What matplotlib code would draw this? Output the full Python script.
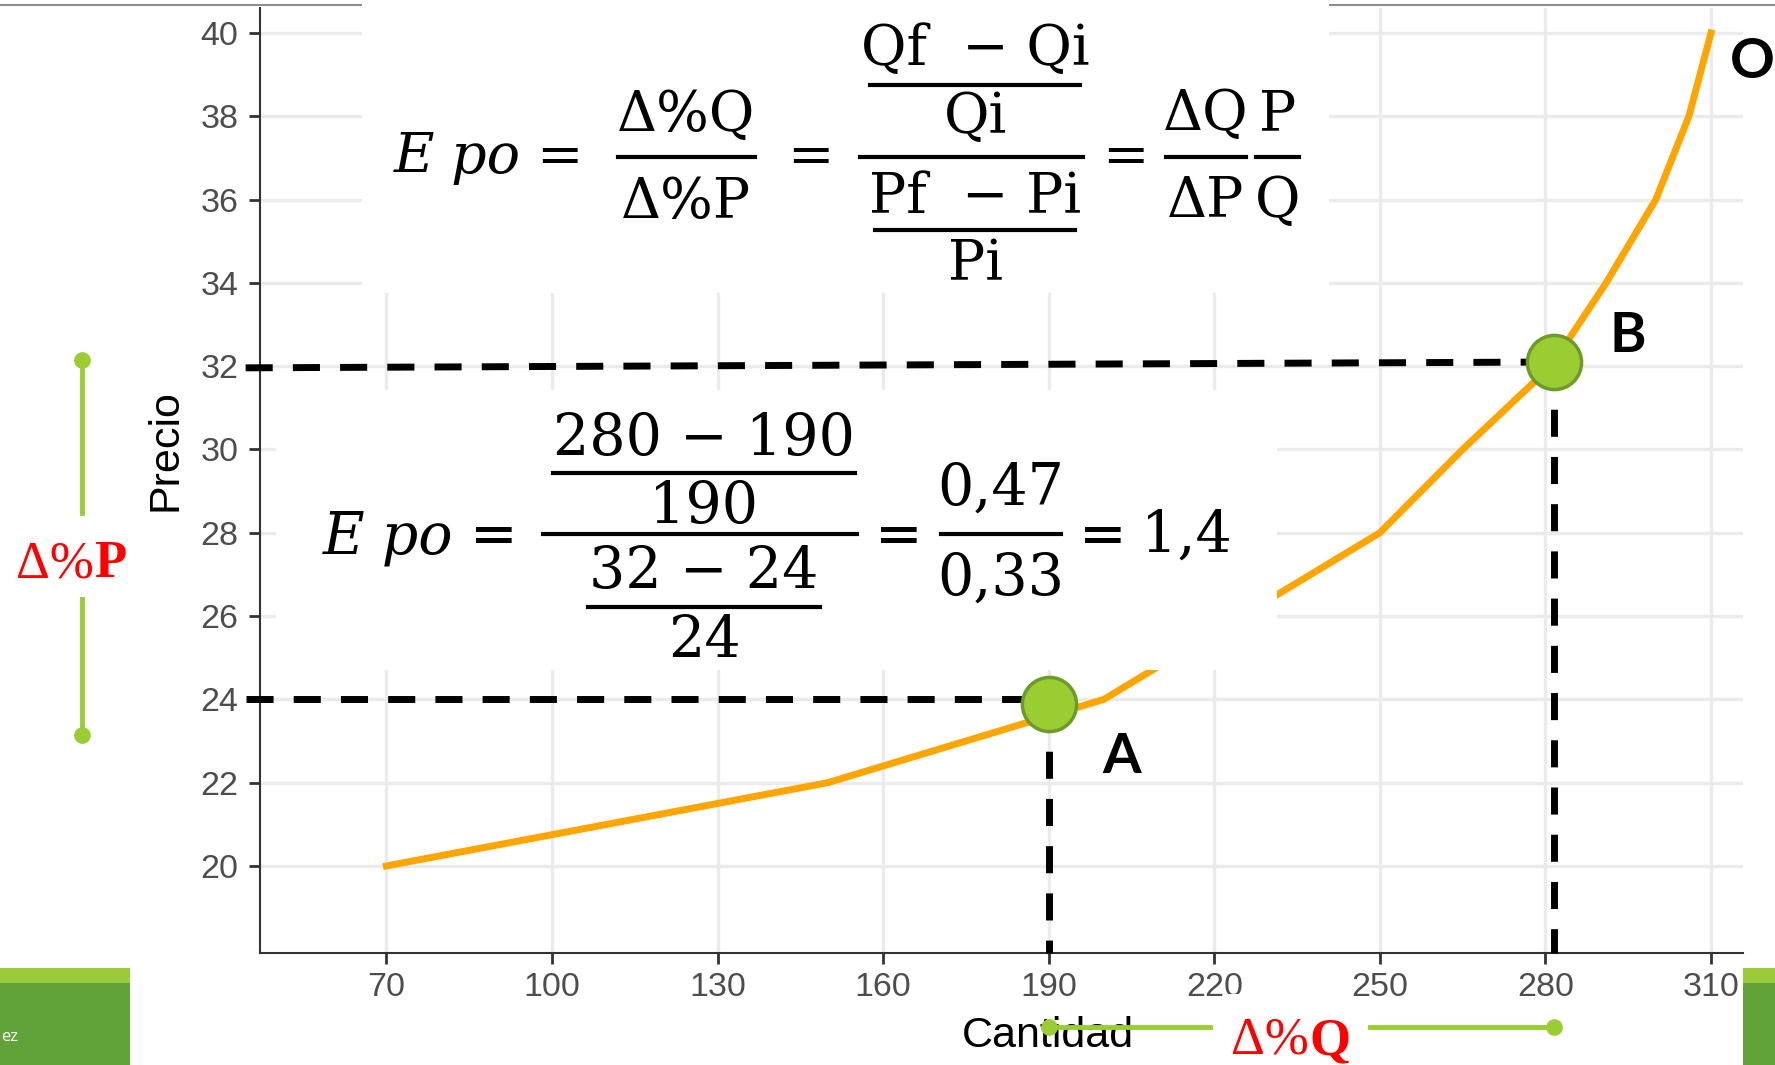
import matplotlib
matplotlib.use("Agg")
import matplotlib.pyplot as plt
from matplotlib.patches import Rectangle
from matplotlib.lines import Line2D

# ---------------- data ----------------
cantidad = [70, 150, 200, 250, 265, 281, 291, 300, 306, 310]
precio = [20, 22, 24, 28, 30, 32, 34, 36, 38, 40]
punto_A = (190, 23.9)
punto_B = (281.6, 32.1)
x_ticks = [70, 100, 130, 160, 190, 220, 250, 280, 310]
y_ticks = [20, 22, 24, 26, 28, 30, 32, 34, 36, 38, 40]

W, H = 1775, 1065
fig = plt.figure(figsize=(W / 100, H / 100), dpi=100)
fig.patch.set_facecolor("white")


def fx(x):
    return x / W


def fy(y):
    return 1 - y / H


ax = fig.add_axes([fx(260), fy(953), fx(1743) - fx(260), fy(8) - fy(953)])
ax.set_xlim(47.1, 315.8)
ax.set_ylim(17.91, 40.6)
ax.set_facecolor("white")
for s in ["top", "right"]:
    ax.spines[s].set_visible(False)
for s in ["left", "bottom"]:
    ax.spines[s].set_color("#333333")
    ax.spines[s].set_linewidth(1.5)
ax.set_xticks(x_ticks)
ax.set_yticks(y_ticks)
ax.grid(color="#EBEBEB", lw=2.4)
ax.set_axisbelow(True)
ax.tick_params(length=8, width=2, color="#333333", labelsize=24.5,
               labelcolor="#4D4D4D")
ax.tick_params(axis="y", pad=7.5)
ax.tick_params(axis="x", pad=6)
for lab in ax.get_xticklabels() + ax.get_yticklabels():
    lab.set_family("Liberation Sans")

# curve
ax.plot(cantidad, precio, color="#FFA500", lw=5, zorder=3,
        solid_joinstyle="miter")

# dashed guide lines
dash = dict(color="black", lw=5, dashes=(3.9, 2.9), clip_on=False, zorder=4)
ax.plot([44.5, punto_A[0]], [24.0, 24.0], **dash)
ax.plot([44.5, punto_B[0]], [31.96, punto_B[1]], **dash)
ax.plot([punto_A[0], punto_A[0]], [punto_A[1], 17.91], **dash)
ax.plot([punto_B[0], punto_B[0]], [punto_B[1], 17.91], **dash)

# points
for p in (punto_A, punto_B):
    ax.plot(p[0], p[1], "o", ms=39, mfc="#9ACD32", mec="#6E9A2A", mew=2.5,
            zorder=6, clip_on=False)

# axis titles
fig.text(fx(1048), fy(1047), "Cantidad", ha="center", va="baseline",
         fontsize=31, family="Liberation Sans", color="black")
fig.text(fx(166), fy(450), "Precio", ha="center", va="center", rotation=90,
         fontsize=31, family="Liberation Sans", color="black")

# point labels
lab_kw = dict(ha="center", va="baseline", fontsize=40, family="Lato",
              weight="bold", color="black")
fig.text(fx(1122), fy(773), "A", **lab_kw)
fig.text(fx(1628), fy(352), "B", **lab_kw)
fig.text(fx(1752), fy(78), "O", **lab_kw)

# slide decorations
fig.add_artist(Line2D([0, 1], [fy(5), fy(5)], color="#8C8C8C", lw=1.5,
                      zorder=1))


def white_box(x0, y0, x1, y1, z=2):
    fig.add_artist(Rectangle((fx(x0), fy(y1)), fx(x1) - fx(x0),
                             fy(y0) - fy(y1), transform=fig.transFigure,
                             facecolor="white", edgecolor="none", zorder=z))


white_box(362, 0, 1329, 293)
white_box(276, 390, 1277, 670)
white_box(1226, 994, 1350, 1065)


def rect(x0, y0, x1, y1, color, z=2):
    fig.add_artist(Rectangle((fx(x0), fy(y1)), fx(x1) - fx(x0),
                             fy(y0) - fy(y1), transform=fig.transFigure,
                             facecolor=color, edgecolor="none", zorder=z))


rect(0, 968, 130, 1065, "#62A339")
rect(0, 968, 130, 983, "#9BCB3B")
rect(1743, 968, 1775, 1065, "#62A339")
rect(1743, 968, 1775, 983, "#9BCB3B")
fig.text(fx(1), fy(1037), "ez", ha="left", va="center", fontsize=12,
         family="Open Sans", color="white", zorder=3)

# equation helper
SERIF = "DejaVu Serif"


def t(x, y, s, size=40, style="normal"):
    fig.text(fx(x), fy(y), s, ha="center", va="baseline", fontsize=size,
             family=SERIF, style=style, color="black", zorder=5)


def bar(x0, x1, y):
    fig.add_artist(Line2D([fx(x0), fx(x1)], [fy(y), fy(y)], color="black",
                          lw=3, zorder=5))


# top equation
t(457, 173, "E po", style="italic")
t(559, 173, "=")
t(686, 131, "Δ%Q")
bar(618, 755, 157)
t(686, 218, "Δ%P")
t(810, 173, "=")
t(975, 65, "Qf  − Qi")
bar(870, 1080, 85)
t(975, 133, "Qi")
bar(860, 1083, 157)
t(975, 213, "Pf  − Pi")
bar(875, 1075, 230)
t(975, 280, "Pi")
t(1125, 173, "=")
t(1206, 130, "ΔQ")
bar(1166, 1246, 157)
t(1206, 217, "ΔP")
t(1278, 130, "P")
bar(1256, 1299, 157)
t(1278, 217, "Q")

# second equation
S2 = 41
t(388, 553, "E po", S2, style="italic")
t(494, 553, "=", S2)
t(704, 455, "280 − 190", S2)
bar(553, 855, 473)
t(704, 523, "190", S2)
bar(543, 857, 534)
t(704, 588, "32 − 24", S2)
bar(588, 820, 607)
t(704, 657, "24", S2)
t(899, 553, "=", S2)
t(1001, 505, "0,47", S2)
bar(941, 1061, 534)
t(1001, 595, "0,33", S2)
t(1103, 553, "=", S2)
t(1186, 552, "1,4", S2)

# delta P marker (left)
GREEN = "#9ACD32"
fig.add_artist(Line2D([fx(82), fx(82)], [fy(360), fy(513)], color=GREEN,
                      lw=3.5, zorder=3))
fig.add_artist(Line2D([fx(82), fx(82)], [fy(599), fy(735)], color=GREEN,
                      lw=3.5, zorder=3))
fig.add_artist(Line2D([fx(82), fx(82)], [fy(360), fy(735)], ls="none",
                      marker="o", ms=11, color=GREEN, zorder=3))
red_kw = dict(va="baseline", fontsize=38, family="Liberation Serif",
              color="red", zorder=4)
fig.text(fx(94), fy(577), "Δ%", ha="right", **red_kw)
fig.text(fx(94), fy(577), "P", ha="left", weight="bold", **red_kw)

# delta Q marker (bottom)
xa = ax.transData.transform((punto_A[0], 0))[0]
xb = ax.transData.transform((punto_B[0], 0))[0]
fig.add_artist(Line2D([fx(xa), fx(1210)], [fy(1027), fy(1027)], color=GREEN,
                      lw=3.5, zorder=4))
fig.add_artist(Line2D([fx(1370), fx(xb)], [fy(1027), fy(1027)], color=GREEN,
                      lw=3.5, zorder=4))
fig.add_artist(Line2D([fx(xa), fx(xb)], [fy(1027), fy(1027)], ls="none",
                      marker="o", ms=11, color=GREEN, zorder=4))
fig.text(fx(1309), fy(1054), "Δ%", ha="right", **red_kw)
fig.text(fx(1309), fy(1054), "Q", ha="left", weight="bold", **red_kw)

fig.savefig("out.png", dpi=100, facecolor="white")
